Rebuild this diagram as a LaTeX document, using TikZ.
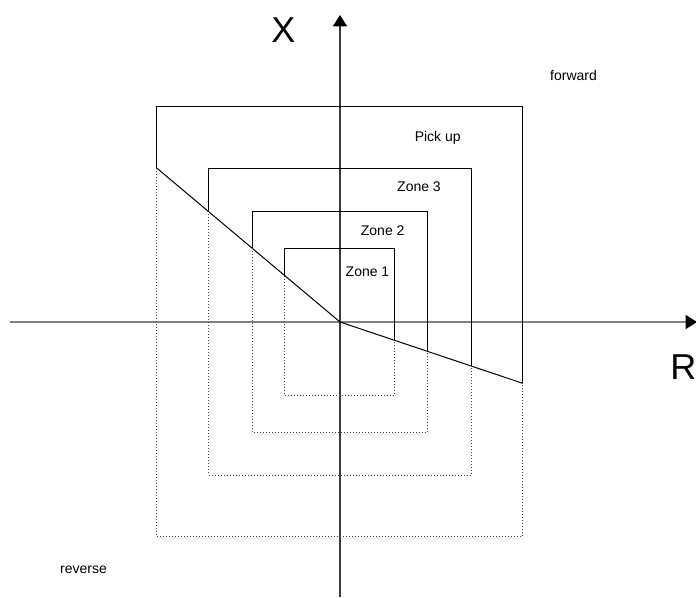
\documentclass[tikz,border=0pt]{standalone}
\usepackage{fontspec}
\setmainfont{Liberation Sans}
\usetikzlibrary{arrows.meta}

\tikzset{
  axis/.style={line width=1.1pt, -{Triangle[width=10.5pt,length=8.5pt,black]}},
  zonesolid/.style={black, line width=0.75pt},
  zonedotted/.style={black!75, line width=0.75pt, dash pattern={on 0.75pt off 1.5pt}},
  zonelabel/.style={anchor=base, inner sep=0pt, font=\fontsize{10.5}{12}\selectfont},
  axislabel/.style={anchor=base, inner sep=0pt, font=\fontsize{27}{30}\selectfont}
}

\begin{document}
\begin{tikzpicture}[x=0.75pt,y=0.75pt,yscale=-1,xscale=1]
        \useasboundingbox (0,0) rectangle (696,597);

        %Axes
        \draw [axis, color={rgb,255:red,128;green,128;blue,128}] (10,322) -- (697,322) ;
        \draw [axis, color={rgb,255:red,60;green,60;blue,60}, line width=0.9pt] (340,597) -- (340,15) ;

        %Boundary line
        \coordinate (A) at (156.7,168) ;
        \coordinate (O) at (340,322) ;
        \coordinate (B) at (522.7,383.3) ;
        \draw [zonesolid] (A) -- (O) -- (B) ;

        %Pick up
        \draw [zonesolid] (156.7,168) -- (156.7,106) -- (522.7,106) -- (522.7,383.3) ;
        \draw [zonedotted] (156.7,168) -- (156.7,536.7) -- (522.7,536.7) -- (522.7,383.3) ;
        %Zone 3
        \draw [zonesolid] (208.3,211.3) -- (208.3,168.3) -- (471.7,168.3) -- (471.7,366.2) ;
        \draw [zonedotted] (208.3,211.3) -- (208.3,475) -- (471.7,475) -- (471.7,366.2) ;
        %Zone 2
        \draw [zonesolid] (252,248.1) -- (252,211.7) -- (427.7,211.7) -- (427.7,351.4) ;
        \draw [zonedotted] (252,248.1) -- (252,432.3) -- (427.7,432.3) -- (427.7,351.4) ;
        %Zone 1
        \draw [zonesolid] (284.7,275.6) -- (284.7,248) -- (394.3,248) -- (394.3,340.2) ;
        \draw [zonedotted] (284.7,275.6) -- (284.7,395.3) -- (394.3,395.3) -- (394.3,340.2) ;

        % Text Node
        \node [axislabel] (xlab) at (283.5,42.5) {X};
        % Text Node
        \node [axislabel, anchor=base west] (rlab) at (670,379.3) {R};
        % Text Node
        \node [zonelabel] (fwd) at (573.5,80) {forward};
        % Text Node
        \node [zonelabel] (rev) at (83.5,573) {reverse};
        % Text Node
        \node [zonelabel] (pick) at (437.7,141.7) {Pick up};
        % Text Node
        \node [zonelabel] (z3) at (419,191.7) {Zone 3};
        % Text Node
        \node [zonelabel] (z2) at (382.7,235) {Zone 2};
        % Text Node
        \node [zonelabel] (z1) at (367.5,276.7) {Zone 1};
\end{tikzpicture}
\end{document}
